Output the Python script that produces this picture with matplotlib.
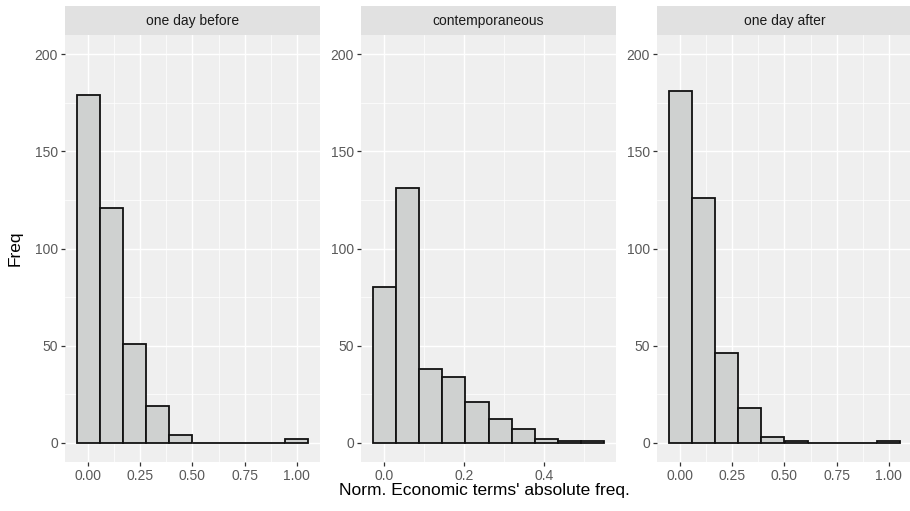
import numpy as np
import matplotlib
matplotlib.use('Agg')
import matplotlib.pyplot as plt
from matplotlib.ticker import MultipleLocator

plt.rcParams['font.family'] = ['Liberation Sans', 'DejaVu Sans']

# facet titles
panels = ['one day before', 'contemporaneous', 'one day after']

# bin centres (10 bins per panel)
centres_before = [0.000, 0.111, 0.222, 0.333, 0.444, 0.556, 0.667, 0.778, 0.889, 1.000]
centres_contemp = [0.000, 0.058, 0.116, 0.174, 0.232, 0.290, 0.348, 0.406, 0.464, 0.522]
centres_after = [0.000, 0.111, 0.222, 0.333, 0.444, 0.556, 0.667, 0.778, 0.889, 1.000]

# counts
freq_before = [179, 121, 51, 19, 4, 0, 0, 0, 0, 2]
freq_contemp = [80, 131, 38, 34, 21, 12, 7, 2, 1, 1]
freq_after = [181, 126, 46, 18, 3, 1, 0, 0, 0, 1]

xticks_wide = [0.00, 0.25, 0.50, 0.75, 1.00]
xticks_narrow = [0.0, 0.2, 0.4]

centres = [centres_before, centres_contemp, centres_after]
freqs = [freq_before, freq_contemp, freq_after]
xticks = [xticks_wide, xticks_narrow, xticks_wide]
xfmt = ['%.2f', '%.1f', '%.2f']

W, H = 910, 511
fig = plt.figure(figsize=(W / 100, H / 100), dpi=100)

lefts = [65, 361, 657]
pw = 255
ptop, pbot = 35, 462
stop = 6

for i in range(3):
    ax = fig.add_axes([lefts[i] / W, (H - pbot) / H, pw / W, (pbot - ptop) / H])
    c = np.array(centres[i])
    bw = c[1] - c[0]
    ax.bar(c, freqs[i], width=bw, color='#cfd1d0', edgecolor='#111111', linewidth=1.3, zorder=3)

    lo = c[0] - bw / 2
    hi = c[-1] + bw / 2
    pad = (hi - lo) * 0.05
    ax.set_xlim(lo - pad, hi + pad)
    ax.set_ylim(-10, 210)

    ax.set_facecolor('#efefef')
    for s in ax.spines.values():
        s.set_visible(False)

    ax.set_yticks([0, 50, 100, 150, 200])
    ax.yaxis.set_minor_locator(MultipleLocator(25))
    ax.set_xticks(xticks[i])
    step = xticks[i][1] - xticks[i][0]
    ax.xaxis.set_minor_locator(MultipleLocator(step / 2))
    ax.set_xticklabels([xfmt[i] % t for t in xticks[i]])

    ax.grid(True, which='major', color='white', linewidth=1.0, zorder=0)
    ax.grid(True, which='minor', color='white', linewidth=0.5, zorder=0)
    ax.set_axisbelow(True)
    ax.tick_params(which='major', length=3, width=0.9, color='#333333',
                   labelcolor='#595959', labelsize=10, pad=2)
    ax.tick_params(which='minor', length=0)

    # strip
    sx = fig.add_axes([lefts[i] / W, (H - ptop) / H, pw / W, (ptop - stop) / H])
    sx.set_facecolor('#e1e1e1')
    sx.set_xticks([])
    sx.set_yticks([])
    for s in sx.spines.values():
        s.set_visible(False)
    sx.text(0.5, 0.5, panels[i], ha='center', va='center', fontsize=10,
            color='#1a1a1a', transform=sx.transAxes)

fig.text(15 / W, (H - 248) / H, 'Freq', rotation=90, ha='center', va='center',
         fontsize=12.5, color='black')
fig.text(484 / W, (H - 490) / H, "Norm. Economic terms' absolute freq.",
         ha='center', va='center', fontsize=12.5, color='black')

fig.savefig('out.png', dpi=100)
